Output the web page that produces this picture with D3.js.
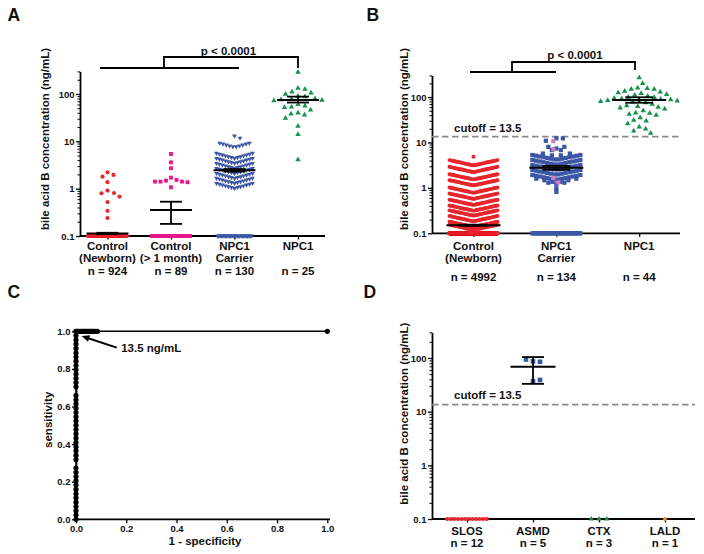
<!DOCTYPE html>
<html><head><meta charset="utf-8">
<script src="https://cdn.jsdelivr.net/npm/d3@7"></script>
<style>
body{margin:0;background:#fff}
text{font-family:"Liberation Sans",Arial,Helvetica,sans-serif;font-weight:bold;fill:#111}
</style></head>
<body><svg id="c" width="704" height="554"></svg>
<script>
// ---------------- DATA ----------------
const cutoff = 13.5;
const logTickValues = [0.1, 1, 10, 100];
const logTickLabels = ["0.1", "1", "10", "100"];

// Panel A
const aCategories = ["Control (Newborn)", "Control (> 1 month)", "NPC1 Carrier", "NPC1"];
const aLabelLines = [["Control", "(Newborn)", "n = 924"], ["Control", "(> 1 month)", "n = 89"], ["NPC1", "Carrier", "n = 130"], ["NPC1", "", "n = 25"]];
const aNewbornValues = [2.22, 1.95, 1.79, 1.37, 0.91, 0.81, 0.80, 0.68, 0.52, 0.34, 0.24];
const aNewbornLoq = 913;
const aMonthValues = [5.4, 3.6, 2.7, 1.71, 1.53, 1.48, 1.41, 1.41, 1.41, 1.37, 1.07];
const aMonthLoq = 78;
const aCarrierValues = [13, 11.7];
// [edge value, count]
const aCarrierRows = [[9.2, 10], [5.6, 13], [4.38, 13], [3.44, 13], [2.69, 13], [2.11, 13], [1.66, 13], [1.30, 13]];
const aCarrierLoq = 27;
const aNpcValues = [290, 133, 126, 110, 105, 99, 90, 88, 80, 78, 76, 74, 72, 60, 56, 53, 52, 46, 40, 38, 36, 31, 21, 14, 4.1];
const aMean = [0.113, 0.355, 2.45, 75];
const aSemLo = [0.110, 0.18, 2.3, 66];
const aSemHi = [0.117, 0.53, 2.6, 88];

// Panel B
const bCategories = ["Control (Newborn)", "NPC1 Carrier", "NPC1"];
const bLabelLines = [["Control", "(Newborn)", "n = 4992"], ["NPC1", "Carrier", "n = 134"], ["NPC1", "", "n = 44"]];
const bNewbornValues = [4.83];
const bNewbornRows = [[4.09, 40], [2.91, 40], [2.0, 40], [1.48, 40], [1.02, 40], [0.75, 40], [0.55, 40], [0.41, 40], [0.32, 40], [0.24, 40], [0.18, 40], [0.155, 40]];
const bNewbornColumn = [[0.135, 3], [0.12, 3], [0.11, 3]];
const bNewbornLoq = 4502;
const bCarrierValues = [12.3, 12.3, 10.9];
// [edge value, count, spacing]
const bCarrierRows = [[8.0, 3, 8], [6.8, 2, 9], [5.7, 4, 9], [5.3, 14, 3.7], [4.12, 14, 3.7], [3.19, 14, 3.7], [2.48, 14, 3.7], [1.92, 14, 3.7], [1.6, 6, 8], [1.3, 3, 8], [0.97, 1, 0], [0.82, 1, 0]];
const bCarrierPink = [10.7, 7.1, 1.66, 1.32];
const bCarrierLoq = 37;
const bNpcValues = [268, 200, 160, 155, 150, 150, 135, 130, 125, 120, 115, 110, 105, 100, 98, 95, 92, 90, 88, 86, 84, 82, 80, 78, 75, 70, 65, 62, 60, 58, 55, 50, 45, 44, 42, 40, 35, 31, 30, 26, 22, 20, 18, 16];
const bMean = [0.15, 2.76, 86];
const bSemLo = [0.146, 2.5, 75];
const bSemHi = [0.155, 3.05, 99];

// Panel C (ROC)
const rocTicks = [0, 0.2, 0.4, 0.6, 0.8, 1.0];
const rocSensAtZeroFpr = [0, 0.023, 0.045, 0.068, 0.091, 0.114, 0.136, 0.159, 0.182, 0.205, 0.227, 0.25, 0.273, 0.318, 0.341, 0.364, 0.386, 0.409, 0.432, 0.455, 0.477, 0.5, 0.523, 0.545, 0.568, 0.591, 0.614, 0.636, 0.659, 0.705, 0.727, 0.75, 0.773, 0.795, 0.818, 0.841, 0.864, 0.886, 0.909, 0.932, 0.955, 0.977, 1.0];
const rocFprAtFullSens = [0, 0.005, 0.01, 0.015, 0.02, 0.025, 0.03, 0.035, 0.04, 0.045, 0.05, 0.055, 0.06, 0.065, 0.07, 0.075, 0.08, 0.085, 1.0];
const rocArrowTip = [0.022, 0.975];
const rocArrowTail = [0.162, 0.913];

// Panel D
const dCategories = ["SLOS", "ASMD", "CTX", "LALD"];
const dLabelLines = [["SLOS", "n = 12"], ["ASMD", "n = 5"], ["CTX", "n = 3"], ["LALD", "n = 1"]];
const dSlosLoq = 12;
const dAsmdValues = [87, 85, 94, 37, 39];
const dCtxLoq = 3;
const dLaldLoq = 1;
const dAsmdMean = 68.4, dAsmdLo = 33, dAsmdHi = 104;

// ---------------- HELPERS ----------------
const RED = "#e8262d", PINK = "#ea178c", BLUE = "#3b56a5", GREEN = "#17924b", MAUVE = "#d07cbf", ORANGE = "#f58a1f", DASH = "#8a8a8a";
const TICK_FS = 9.5;
const svg = d3.select("#c");

function styleAxis(g, fs) {
  g.select(".domain").attr("stroke", "#000").attr("stroke-width", 1.8);
  g.selectAll(".tick line").attr("stroke", "#000").attr("stroke-width", 1.3);
  g.selectAll(".tick text").attr("font-size", fs || TICK_FS).attr("fill", "#111")
    .style("font-family", '"Liberation Sans",Arial,sans-serif').style("font-weight", "bold");
}

function logYAxis(g, y, x0) {
  const minor = y.ticks().filter(t => !logTickValues.some(m => Math.abs(m - t) < 1e-9));
  g.append("g").attr("transform", `translate(${x0},0)`)
    .call(d3.axisLeft(y).tickValues(minor).tickSize(2.5).tickFormat(""))
    .call(a => { a.select(".domain").remove(); a.selectAll(".tick line").attr("stroke", "#000").attr("stroke-width", 1); });
  const ax = g.append("g").attr("transform", `translate(${x0},0)`)
    .call(d3.axisLeft(y).tickValues(logTickValues).tickSize(4).tickSizeOuter(0).tickPadding(1.5).tickFormat((d, i) => logTickLabels[i]));
  styleAxis(ax, TICK_FS);
}

function catXAxis(g, x, yPos, x0, x1) {
  const ax = g.append("g").attr("transform", `translate(0,${yPos})`)
    .call(d3.axisBottom(x).tickSize(3.5).tickFormat(""));
  ax.select(".domain").remove();
  ax.selectAll(".tick line").attr("stroke", "#000").attr("stroke-width", 1.3);
  g.append("line").attr("x1", x0).attr("x2", x1).attr("y1", yPos).attr("y2", yPos).attr("stroke", "#000").attr("stroke-width", 1.8);
}

// rows: [value at row edge, count, optional spacing]; lowest point at centre (V-shaped row)
function rowPoints(rows, cx, y, spacing, maxHalf, slope) {
  const pts = [];
  rows.forEach(r => {
    const v = r[0], n = r[1], sp = r.length > 2 ? r[2] : spacing;
    const span = n > 1 ? Math.min(sp * (n - 1), 2 * maxHalf) : 0;
    const step = n > 1 ? span / (n - 1) : 0;
    for (let i = 0; i < n; i++) {
      const dx = -span / 2 + i * step;
      pts.push({ x: cx + dx, y: y(v) + slope * (span / 2 - Math.abs(dx)) });
    }
  });
  return pts;
}

function swarm(values, cx, y, d, placed) {
  const out = [];
  values.forEach(v => {
    const yy = y(v);
    let bx = cx;
    for (let k = 0; k < 600; k++) {
      const dx = (k % 2 ? 1 : -1) * Math.ceil(k / 2) * 0.5;
      const xx = cx + dx;
      if (placed.every(p => (p.x - xx) ** 2 + (p.y - yy) ** 2 >= d * d)) { bx = xx; break; }
    }
    const p = { x: bx, y: yy };
    placed.push(p); out.push(p);
  });
  return out;
}

function drawPts(g, pts, shape, size, color, rot) {
  const sym = d3.symbol().type(shape).size(size);
  g.append("g").selectAll("path").data(pts).join("path")
    .attr("d", sym)
    .attr("transform", p => `translate(${p.x},${p.y})` + (rot ? " rotate(180)" : ""))
    .attr("fill", color);
}

function meanSem(g, cx, y, mean, lo, hi, halfMean, halfCap) {
  const s = g.append("g").attr("stroke", "#000").attr("fill", "none");
  s.append("line").attr("x1", cx).attr("x2", cx).attr("y1", y(lo)).attr("y2", y(hi)).attr("stroke-width", 1.8);
  s.append("line").attr("x1", cx - halfCap).attr("x2", cx + halfCap).attr("y1", y(lo)).attr("y2", y(lo)).attr("stroke-width", 1.8);
  s.append("line").attr("x1", cx - halfCap).attr("x2", cx + halfCap).attr("y1", y(hi)).attr("y2", y(hi)).attr("stroke-width", 1.8);
  s.append("line").attr("x1", cx - halfMean).attr("x2", cx + halfMean).attr("y1", y(mean)).attr("y2", y(mean)).attr("stroke-width", 2);
}

function yTitle(g, x, yc, txt) {
  g.append("text").attr("transform", `translate(${x},${yc}) rotate(-90)`).attr("text-anchor", "middle")
    .attr("dy", "0.35em").attr("font-size", 11.5).text(txt);
}

function bracket(g, x0, x1, xm, xr, yLow, yHigh, yRight, textX, textY) {
  const b = g.append("g").attr("stroke", "#000").attr("stroke-width", 1.8).attr("fill", "none");
  b.append("line").attr("x1", x0).attr("x2", x1).attr("y1", yLow).attr("y2", yLow);
  b.append("path").attr("d", `M${xm},${yLow}V${yHigh}H${xr}V${yRight}`);
  g.append("text").attr("x", textX).attr("y", textY).attr("text-anchor", "middle").attr("font-size", 11.5).text("p < 0.0001");
}

function panelLetter(x, y, t) {
  svg.append("text").attr("x", x).attr("y", y).attr("font-size", 17.5).text(t);
}

// ---------------- PANEL A ----------------
(function () {
  const g = svg.append("g");
  const y = d3.scaleLog().domain([0.1, 300]).range([236, 71.4]);
  const x = d3.scalePoint().domain(aCategories).range([107.5, 298]);
  panelLetter(7.5, 20.5, "A");
  catXAxis(g, x, y(0.1), 80, 325);
  logYAxis(g, y, 80);
  yTitle(g, 45, 139, "bile acid B concentration (ng/mL)");

  const cx = aCategories.map(c => x(c));
  let placed = [];
  drawPts(g, rowPoints([[0.1, aNewbornLoq]], cx[0], y, 3.5, 19, 0), d3.symbolCircle, 14, RED);
  drawPts(g, swarm(aNewbornValues, cx[0], y, 6.5, placed), d3.symbolCircle, 14, RED);
  placed = [];
  drawPts(g, rowPoints([[0.1, aMonthLoq]], cx[1], y, 3.5, 19, 0), d3.symbolSquare, 15, PINK);
  drawPts(g, swarm(aMonthValues, cx[1], y, 5.5, placed), d3.symbolSquare, 15, PINK);
  const rp = rowPoints(aCarrierRows, cx[2], y, 3.3, 18, 0.28);
  placed = rp.slice();
  drawPts(g, rowPoints([[0.1, aCarrierLoq]], cx[2], y, 3, 17, 0), d3.symbolTriangle, 10, BLUE, true);
  drawPts(g, rp, d3.symbolTriangle, 10, BLUE, true);
  drawPts(g, swarm(aCarrierValues, cx[2], y, 5.5, placed), d3.symbolTriangle, 10, BLUE, true);
  placed = [];
  drawPts(g, swarm(aNpcValues, cx[3], y, 6.8, placed), d3.symbolTriangle, 13, GREEN);

  aMean.forEach((m, i) => meanSem(g, cx[i], y, m, aSemLo[i], aSemHi[i], 21, 11));

  aLabelLines.forEach((lines, i) => {
    lines.forEach((t, j) => {
      g.append("text").attr("x", cx[i]).attr("y", 250 + j * 12.3).attr("text-anchor", "middle").attr("font-size", 11.5).text(t);
    });
  });
  bracket(g, 100, 239, 164, 298, 68, 57, 68, 228.5, 55);
})();

// ---------------- PANEL B ----------------
(function () {
  const g = svg.append("g");
  const y = d3.scaleLog().domain([0.1, 300]).range([233.3, 75.4]);
  const x = d3.scalePoint().domain(bCategories).range([473.5, 639.2]);
  panelLetter(366.5, 20.5, "B");
  catXAxis(g, x, y(0.1), 432, 680);
  logYAxis(g, y, 432);
  yTitle(g, 403.7, 139, "bile acid B concentration (ng/mL)");

  const yc = y(cutoff);
  g.append("line").attr("x1", 432).attr("x2", 680).attr("y1", yc).attr("y2", yc)
    .attr("stroke", DASH).attr("stroke-width", 1.8).attr("stroke-dasharray", "6.5,3.5");
  g.append("text").attr("x", 454).attr("y", 132).attr("font-size", 11.5).text("cutoff = 13.5");

  const cx = bCategories.map(c => x(c));
  const nr = rowPoints(bNewbornRows, cx[0], y, 2, 24, 0.22);
  const nc = rowPoints(bNewbornColumn, cx[0], y, 3.3, 5, 0);
  drawPts(g, rowPoints([[0.1, bNewbornLoq]], cx[0], y, 1, 24, 0), d3.symbolCircle, 13, RED);
  drawPts(g, nc, d3.symbolCircle, 13, RED);
  drawPts(g, nr, d3.symbolCircle, 12, RED);
  let placed = nr.slice();
  drawPts(g, swarm(bNewbornValues, cx[0], y, 5, placed), d3.symbolCircle, 13, RED);

  const cr = rowPoints(bCarrierRows, cx[1], y, 3.7, 24, 0.2);
  placed = cr.slice();
  drawPts(g, rowPoints([[0.1, bCarrierLoq]], cx[1], y, 4, 24, 0), d3.symbolSquare, 18, BLUE);
  drawPts(g, cr, d3.symbolSquare, 18, BLUE);
  drawPts(g, swarm(bCarrierValues, cx[1], y, 6.5, placed), d3.symbolSquare, 18, BLUE);
  drawPts(g, swarm(bCarrierPink, cx[1] - 3, y, 6.5, []), d3.symbolSquare, 18, MAUVE);

  placed = [];
  drawPts(g, swarm(bNpcValues, cx[2], y, 6.6, placed), d3.symbolTriangle, 13, GREEN);

  bMean.forEach((m, i) => meanSem(g, cx[i], y, m, bSemLo[i], bSemHi[i], 27, 14));

  bLabelLines.forEach((lines, i) => {
    lines.forEach((t, j) => {
      g.append("text").attr("x", cx[i]).attr("y", 249.5 + j * 12.5 + (j === 2 ? 6 : 0)).attr("text-anchor", "middle").attr("font-size", 11.5).text(t);
    });
  });
  bracket(g, 470, 556, 512, 635, 72, 62, 70, 575, 59);
})();

// ---------------- PANEL C ----------------
(function () {
  const g = svg.append("g");
  const x = d3.scaleLinear().domain([0, 1]).range([76, 327.3]);
  const y = d3.scaleLinear().domain([0, 1]).range([519.3, 331.3]);
  panelLetter(7.5, 297.5, "C");
  const ax = g.append("g").attr("transform", `translate(0,${y(0)})`)
    .call(d3.axisBottom(x).tickValues(rocTicks).tickSize(4).tickSizeOuter(0).tickPadding(1.5).tickFormat(d3.format(".1f")));
  styleAxis(ax, TICK_FS);
  ax.select(".domain").attr("d", `M0,0H${330 - 76}`).attr("transform", `translate(${x(0)},0)`);
  const ay = g.append("g").attr("transform", `translate(${x(0)},0)`)
    .call(d3.axisLeft(y).tickValues(rocTicks).tickSize(4).tickSizeOuter(0).tickPadding(1.5).tickFormat(d3.format(".1f")));
  styleAxis(ay, TICK_FS);
  yTitle(g, 48.3, 419.8, "sensitivity");
  g.append("text").attr("x", 205).attr("y", 545).attr("text-anchor", "middle").attr("font-size", 11.5).text("1 - specificity");

  const pts = rocSensAtZeroFpr.map(s => [0, s]).concat(rocFprAtFullSens.map(f => [f, 1]));
  g.append("path").attr("d", d3.line().x(d => x(d[0])).y(d => y(d[1]))(pts))
    .attr("fill", "none").attr("stroke", "#000").attr("stroke-width", 1.4);
  g.append("g").selectAll("circle").data(pts).join("circle")
    .attr("cx", d => x(d[0])).attr("cy", d => y(d[1])).attr("r", 2.6).attr("fill", "#000");

  const tx = x(rocArrowTip[0]), ty = y(rocArrowTip[1]);
  const sx = x(rocArrowTail[0]), sy = y(rocArrowTail[1]);
  const ang = Math.atan2(ty - sy, tx - sx);
  const hl = 8, hw = 3.5;
  const bx = tx - hl * Math.cos(ang), by = ty - hl * Math.sin(ang);
  g.append("line").attr("x1", sx).attr("y1", sy).attr("x2", bx).attr("y2", by).attr("stroke", "#000").attr("stroke-width", 2);
  g.append("path").attr("d", `M${tx},${ty}L${bx + hw * Math.sin(ang)},${by - hw * Math.cos(ang)}L${bx - hw * Math.sin(ang)},${by + hw * Math.cos(ang)}Z`).attr("fill", "#000");
  g.append("text").attr("x", sx + 4.5).attr("y", sy).attr("dy", "0.35em").attr("font-size", 11.5).text("13.5 ng/mL");
})();

// ---------------- PANEL D ----------------
(function () {
  const g = svg.append("g");
  const y = d3.scaleLog().domain([0.1, 300]).range([519, 332.4]);
  const x = d3.scalePoint().domain(dCategories).range([467, 665]);
  panelLetter(363.5, 297.5, "D");
  catXAxis(g, x, y(0.1), 432, 695);
  logYAxis(g, y, 432);
  yTitle(g, 403.7, 413.7, "bile acid B concentration (ng/mL)");

  const yc = y(cutoff);
  g.append("line").attr("x1", 432).attr("x2", 695).attr("y1", yc).attr("y2", yc)
    .attr("stroke", DASH).attr("stroke-width", 1.8).attr("stroke-dasharray", "6.5,3.5");
  g.append("text").attr("x", 454).attr("y", 399).attr("font-size", 11.5).text("cutoff = 13.5");

  const cx = dCategories.map(c => x(c));
  drawPts(g, rowPoints([[0.1, dSlosLoq]], cx[0], y, 3.6, 22, 0), d3.symbolCircle, 14, RED);
  drawPts(g, swarm(dAsmdValues, cx[1], y, 7, []), d3.symbolSquare, 22, BLUE);
  drawPts(g, rowPoints([[0.1, dCtxLoq]], cx[2], y, 7.7, 22, 0), d3.symbolTriangle, 12, GREEN);
  drawPts(g, rowPoints([[0.1, dLaldLoq]], cx[3], y, 5, 22, 0), d3.symbolCircle, 12, ORANGE);
  meanSem(g, cx[1], y, dAsmdMean, dAsmdLo, dAsmdHi, 22.5, 11);

  dLabelLines.forEach((lines, i) => {
    lines.forEach((t, j) => {
      g.append("text").attr("x", cx[i]).attr("y", 534.7 + j * 12).attr("text-anchor", "middle").attr("font-size", 11.5).text(t);
    });
  });
})();
</script></body></html>
